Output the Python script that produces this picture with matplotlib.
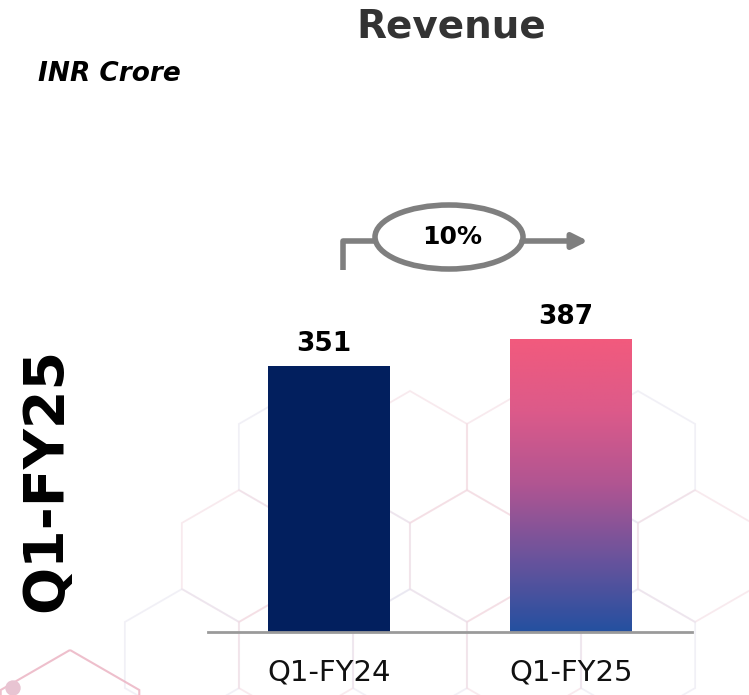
import numpy as np
import matplotlib
matplotlib.use("Agg")
import matplotlib.pyplot as plt
from matplotlib.patches import Ellipse, Polygon
from matplotlib.colors import LinearSegmentedColormap

# --- data ---
categories = ["Q1-FY24", "Q1-FY25"]
revenue = [351, 387]
growth_label = "10%"
title = "Revenue"
unit_label = "INR Crore"
side_label = "Q1-FY25"

navy = "#021f5e"
grad = LinearSegmentedColormap.from_list(
    "rev", ["#2450a0", "#6a539c", "#b05592", "#dc5a8a", "#f25a7d"])

W, H = 749, 695
fig = plt.figure(figsize=(W / 100, H / 100), dpi=100)

# background layer in pixel coords (honeycomb decoration, arrow, ellipse)
bg = fig.add_axes([0, 0, 1, 1], zorder=0)
bg.set_xlim(0, W)
bg.set_ylim(H, 0)
bg.axis("off")

def hexagon(cx, cy, r, color, lw=1.2, alpha=1.0):
    ang = np.deg2rad(np.arange(90, 450, 60))
    pts = np.column_stack([cx + r * np.cos(ang), cy - r * np.sin(ang)])
    bg.add_patch(Polygon(pts, closed=True, fill=False, ec=color, lw=lw, alpha=alpha))

hx = [(410, 457), (296, 457), (524, 457), (638, 457),
      (239, 556), (353, 556), (467, 556), (581, 556), (695, 556),
      (182, 655), (296, 655), (410, 655), (524, 655), (638, 655)]
for i, (cx, cy) in enumerate(hx):
    c = "#f2d6de" if i % 2 == 0 else "#e4e2ee"
    hexagon(cx, cy, 66, c, lw=1.3, alpha=0.5)
hexagon(70, 730, 80, "#eab0c0", lw=1.5, alpha=0.8)
bg.add_patch(plt.Circle((13, 688), 7, color="#e8c4d2"))

# main axes
ax = fig.add_axes([208 / W, (H - 632) / H, 484 / W, 532 / H], zorder=1)
ax.patch.set_alpha(0)
x = np.arange(len(categories))
bars = ax.bar(x, revenue, width=0.504, color=[navy, "none"], zorder=2)
ax.set_xlim(-0.5, 1.5)
ax.set_ylim(0, revenue[0] * 532 / 266)

# gradient fill on second bar
b = bars[1]
x0, y0 = b.get_x(), b.get_y()
img = ax.imshow(np.linspace(0, 1, 256).reshape(-1, 1), cmap=grad, origin="lower",
                extent=[x0, x0 + b.get_width(), y0, y0 + b.get_height()],
                aspect="auto", zorder=2)
img.set_clip_path(b)

for xi, v in zip(x, revenue):
    ax.text(xi - 0.02, v + 12, str(v), ha="center", va="bottom",
            fontsize=19, fontweight="bold", color="black")

for s in ["top", "right", "left"]:
    ax.spines[s].set_visible(False)
ax.spines["bottom"].set_color("#9a9a9a")
ax.spines["bottom"].set_linewidth(2)
ax.set_yticks([])
ax.set_xticks(x)
ax.set_xticklabels(categories, fontsize=21, color="#111111")
ax.tick_params(axis="x", length=0, pad=19)

# growth ellipse + bent arrow
gray = "#7f7f7f"
bg.plot([343, 343, 376], [270, 241, 241], color=gray, lw=4, solid_capstyle="butt")
bg.add_patch(Ellipse((449, 237), 148, 64, fill=False, ec=gray, lw=4))
bg.annotate("", xy=(588, 241), xytext=(522, 241),
            arrowprops=dict(arrowstyle="-|>,head_length=0.9,head_width=0.45",
                            color=gray, lw=4, shrinkA=0, shrinkB=0))
bg.text(452, 237, growth_label, ha="center", va="center", fontsize=18,
        fontweight="bold", color="black")

# titles
fig.text(451 / W, 1 - 27 / H, title, ha="center", va="center", fontsize=28,
         fontweight="bold", color="#333333")
fig.text(38 / W, 1 - 74 / H, unit_label, ha="left", va="center", fontsize=19,
         fontweight="bold", style="italic", color="black")
fig.text(46 / W, 1 - 480 / H, side_label, ha="center", va="center", rotation=90,
         fontsize=40, fontweight="bold", color="black")

fig.savefig("out.png", dpi=100)
